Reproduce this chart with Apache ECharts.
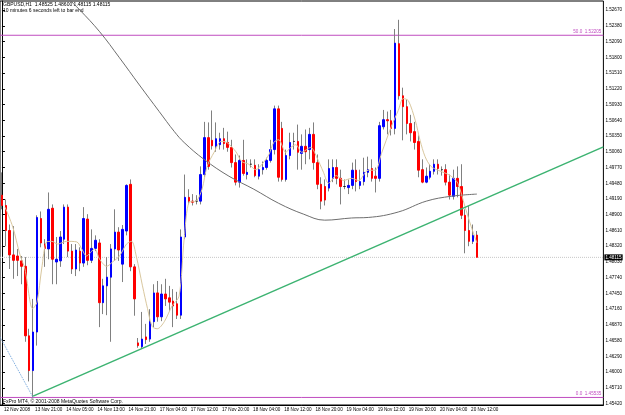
<!DOCTYPE html>
<html>
<head>
<meta charset="utf-8">
<script src="https://cdn.jsdelivr.net/npm/echarts@6/dist/echarts.min.js"></script>
<style>
  html, body { margin: 0; padding: 0; background: #fff; }
  #gbpChart { width: 625px; height: 415px; }
</style>
</head>
<body>
<div id="gbpChart"></div>
<script>
// GBPUSD H1 bars, 12 Nov - 20 Nov 2008
const opens = [
  1.4926, 1.4907, 1.4861, 1.4816, 1.4814, 1.4805, 1.4795, 1.4667, 1.4603, 1.4674,
  1.4883, 1.4836, 1.4827, 1.4902, 1.4803, 1.4805, 1.4845, 1.4904, 1.4823, 1.4790,
  1.4823, 1.4801, 1.4882, 1.4806, 1.4828, 1.4838, 1.4728, 1.4759, 1.4775, 1.4827,
  1.4858, 1.4799, 1.4860, 1.4946, 1.4794, 1.4654, 1.4647, 1.4665, 1.4661, 1.4693,
  1.4746, 1.4702, 1.4744, 1.4737, 1.4731, 1.4726, 1.4705, 1.4849, 1.4922, 1.4915,
  1.4915, 1.4915, 1.4964, 1.5032, 1.5027, 1.5016, 1.5019, 1.5030, 1.5023, 1.5014,
  1.4986, 1.4950, 1.4990, 1.4964, 1.4983, 1.4981, 1.4961, 1.4973, 1.4977, 1.4990,
  1.5010, 1.5085, 1.5049, 1.4955, 1.4999, 1.5025, 1.5025, 1.5003, 1.5016, 1.5010,
  1.5038, 1.4986, 1.4946, 1.4942, 1.4939, 1.4957, 1.4977, 1.4957, 1.4942, 1.4940,
  1.4944, 1.4972, 1.4944, 1.4951, 1.4968, 1.4975, 1.4961, 1.4957, 1.5052, 1.5065,
  1.5063, 1.5049, 1.5205, 1.5109, 1.5089, 1.5058, 1.5043, 1.5025, 1.4973, 1.4950,
  1.4959, 1.4970, 1.4983, 1.4973, 1.4973, 1.4950, 1.4924, 1.4957, 1.4942, 1.4889,
  1.4861, 1.4841, 1.48525
]
const closes = [
  1.4907, 1.4861, 1.4816, 1.4806, 1.4806, 1.4795, 1.4667, 1.4603, 1.4674, 1.4885,
  1.4838, 1.4828, 1.4900, 1.4808, 1.4808, 1.4849, 1.4904, 1.4823, 1.4790, 1.4825,
  1.4801, 1.4883, 1.4806, 1.4828, 1.4843, 1.4728, 1.4759, 1.4775, 1.4827, 1.4858,
  1.4825, 1.4863, 1.4944, 1.4794, 1.4735, 1.4649, 1.4661, 1.4660, 1.4693, 1.4746,
  1.4702, 1.4744, 1.4735, 1.4729, 1.4722, 1.4705, 1.4849, 1.4922, 1.4915, 1.4913,
  1.4915, 1.4964, 1.5032, 1.4979, 1.5017, 1.5030, 1.5030, 1.5021, 1.5014, 1.4986,
  1.4950, 1.4990, 1.4966, 1.4968, 1.4983, 1.4962, 1.4973, 1.4977, 1.4990, 1.5010,
  1.5085, 1.4959, 1.4955, 1.4999, 1.5023, 1.5025, 1.5005, 1.5016, 1.5006, 1.5038,
  1.4986, 1.4946, 1.4915, 1.4917, 1.4975, 1.4977, 1.4957, 1.4942, 1.4942, 1.4944,
  1.4972, 1.4951, 1.4951, 1.4968, 1.4973, 1.4957, 1.4957, 1.5054, 1.5065, 1.5063,
  1.5049, 1.5206, 1.5109, 1.5089, 1.5058, 1.5041, 1.5023, 1.4972, 1.4950, 1.4961,
  1.4970, 1.4983, 1.4975, 1.4973, 1.4950, 1.4926, 1.4957, 1.4942, 1.4889, 1.4861,
  1.4841, 1.4852, 1.48115
]
const lows = [
  1.4900, 1.4832, 1.4790, 1.4772, 1.4777, 1.4762, 1.4656, 1.4583, 1.45535, 1.4649,
  1.4830, 1.4794, 1.4808, 1.4762, 1.4762, 1.4794, 1.4836, 1.4812, 1.4781, 1.4777,
  1.4786, 1.4794, 1.4797, 1.4801, 1.4823, 1.4683, 1.4707, 1.4705, 1.4656, 1.4805,
  1.4805, 1.4766, 1.4852, 1.4786, 1.4704, 1.4645, 1.4643, 1.4652, 1.4656, 1.4683,
  1.4693, 1.4694, 1.4722, 1.4713, 1.4683, 1.4698, 1.4698, 1.4845, 1.4909, 1.4907,
  1.4909, 1.4909, 1.4959, 1.4973, 1.5010, 1.5006, 1.5010, 1.5010, 1.5006, 1.4977,
  1.4944, 1.4940, 1.4962, 1.4955, 1.4977, 1.4959, 1.4955, 1.4964, 1.4973, 1.4986,
  1.5001, 1.4951, 1.4951, 1.4951, 1.4992, 1.5010, 1.4973, 1.4973, 1.4983, 1.4992,
  1.4973, 1.4937, 1.4900, 1.4907, 1.4933, 1.4950, 1.4946, 1.4909, 1.4937, 1.4928,
  1.4937, 1.4933, 1.4937, 1.4944, 1.4959, 1.4951, 1.4931, 1.4951, 1.5047, 1.5038,
  1.5036, 1.5038, 1.5102, 1.5027, 1.5038, 1.5025, 1.5010, 1.4959, 1.4948, 1.4948,
  1.4955, 1.4964, 1.4964, 1.4962, 1.4944, 1.4918, 1.4918, 1.4922, 1.4882, 1.4819,
  1.4832, 1.4836, 1.48115
]
const highs = [
  1.4968, 1.4918, 1.4872, 1.4869, 1.4827, 1.4814, 1.4812, 1.4680, 1.4735, 1.4889,
  1.4896, 1.4845, 1.4931, 1.4909, 1.4849, 1.4860, 1.4909, 1.4909, 1.4836, 1.4836,
  1.4830, 1.4904, 1.4891, 1.4863, 1.4852, 1.4845, 1.4772, 1.4812, 1.4836, 1.4900,
  1.4867, 1.4871, 1.4946, 1.4955, 1.4799, 1.4663, 1.4711, 1.4689, 1.4716, 1.4762,
  1.4768, 1.4762, 1.4772, 1.4759, 1.4753, 1.4748, 1.4863, 1.4964, 1.4937, 1.4928,
  1.4926, 1.4979, 1.5061, 1.5060, 1.5082, 1.5060, 1.5041, 1.5050, 1.5043, 1.5028,
  1.5001, 1.4999, 1.5028, 1.4992, 1.4992, 1.4992, 1.4983, 1.4988, 1.4995, 1.5028,
  1.5091, 1.5091, 1.5061, 1.5010, 1.5041, 1.5041, 1.5056, 1.5038, 1.5047, 1.5050,
  1.5060, 1.5001, 1.4959, 1.4955, 1.4992, 1.4992, 1.4992, 1.4973, 1.4955, 1.4955,
  1.4986, 1.4992, 1.4973, 1.4995, 1.4997, 1.4992, 1.4977, 1.5061, 1.5083, 1.5080,
  1.5083, 1.5232, 1.5249, 1.5124, 1.5102, 1.5074, 1.5061, 1.5036, 1.4992, 1.4977,
  1.4983, 1.4992, 1.4992, 1.4979, 1.4983, 1.4964, 1.4973, 1.4979, 1.4983, 1.4900,
  1.4906, 1.4872, 1.4860
]

// time axis labels, one every 8 bars
const dateLabels = [
  '12 Nov 2008', '13 Nov 21:00', '14 Nov 05:00', '14 Nov 13:00', '14 Nov 21:00',
  '17 Nov 04:00', '17 Nov 12:00', '17 Nov 20:00', '18 Nov 04:00', '18 Nov 12:00',
  '18 Nov 20:00', '19 Nov 04:00', '19 Nov 12:00', '19 Nov 20:00', '20 Nov 04:00',
  '20 Nov 12:00'
]
const priceTicks = [
  1.45420, 1.45710, 1.46000, 1.46290, 1.46580, 1.46870, 1.47160, 1.47450, 1.47740,
  1.48030, 1.48320, 1.48610, 1.48900, 1.49190, 1.49480, 1.49770, 1.50060, 1.50350,
  1.50640, 1.50930, 1.51220, 1.51510, 1.51800, 1.52090, 1.52380, 1.52670
]

// moving averages as [bar, price]
const slowMa = [
  [14.8, 1.5304], [20.0, 1.5267], [25.1, 1.5227], [30.2, 1.5179], [35.3, 1.5129],
  [40.4, 1.5080], [44.3, 1.5043], [46.8, 1.5023], [51.9, 1.4992], [58.3, 1.4961],
  [64.7, 1.4937], [71.1, 1.4911], [77.5, 1.4891], [82.9, 1.4880], [89.8, 1.4884],
  [94.1, 1.4885], [101.8, 1.4895], [109.0, 1.4915], [115.4, 1.4924], [122.0, 1.4928]
]
const fastMa = [
  [0.8, 1.4904], [2.8, 1.4867], [4.6, 1.4817], [5.9, 1.4790], [7.9, 1.4717], [9.0, 1.4729],
  [10.2, 1.4790], [11.5, 1.4840], [12.8, 1.4841], [14.3, 1.4836], [16.6, 1.4841], [19.2, 1.4840],
  [20.5, 1.4827], [21.7, 1.4814], [23.8, 1.4827], [25.1, 1.4808], [26.9, 1.4795], [28.4, 1.4803],
  [30.2, 1.4814], [32.0, 1.4836], [33.3, 1.4841], [34.5, 1.4814], [36.1, 1.4759], [37.4, 1.4717],
  [38.6, 1.4684], [39.9, 1.4680], [41.7, 1.4693], [43.7, 1.4722], [45.5, 1.4740], [46.8, 1.4845],
  [48.1, 1.4913], [49.9, 1.4915], [51.4, 1.4937], [52.7, 1.4979], [54.5, 1.5005], [56.3, 1.5025],
  [57.8, 1.5023], [60.1, 1.5006], [61.6, 1.4988], [63.4, 1.4983], [65.2, 1.4973], [66.8, 1.4983],
  [68.6, 1.5001], [69.8, 1.5023], [71.1, 1.5028], [72.9, 1.5005], [74.2, 1.5014], [75.5, 1.5019],
  [77.0, 1.5005], [79.3, 1.5014], [80.8, 1.4997], [82.6, 1.4968], [83.9, 1.4948], [85.9, 1.4962],
  [87.7, 1.4953], [89.8, 1.4957], [91.6, 1.4953], [94.1, 1.4972], [95.9, 1.4972], [97.5, 1.5003],
  [98.7, 1.5027], [100.0, 1.5052], [101.8, 1.5082], [103.1, 1.5104], [104.4, 1.5100], [106.2, 1.5063],
  [107.4, 1.5027], [108.7, 1.4997], [110.2, 1.4979], [112.0, 1.4972], [114.1, 1.4966], [115.4, 1.4961],
  [117.1, 1.4948], [118.9, 1.4906], [120.5, 1.4869], [122.0, 1.4838]
]
// drawn objects
const trendLine = [[8, 1.4556], [154.5, 1.5015]]
const fiboTrend = [[-0.5, 1.4665], [8, 1.45535]]
const fiboNames = ['50.0', '0.0']
const fiboValues = [1.52205, 1.45535]
const lastPrice = 1.48115

const barSlots = 155
const categories = []
for (let i = 0; i < barSlots; i++) {
  categories.push(i % 8 === 0 && dateLabels[i / 8] ? dateLabels[i / 8] : '')
}
const candles = opens.map((o, i) => [o, closes[i], lows[i], highs[i]])
// bodies only (no shadow), drawn over the grey wicks
const bodies = opens.map((o, i) => [o, closes[i], Math.min(o, closes[i]), Math.max(o, closes[i])])
const fullRow = (v) => [[-0.5, v], [barSlots - 0.5, v]]

const font = 'Liberation Sans'
const purple = '#c04cc0'

const fiboSeries = fiboValues.map((v, k) => ({
  type: 'line',
  xAxisIndex: 1,
  data: fullRow(v),
  showSymbol: false,
  silent: true,
  lineStyle: { color: purple, width: 1 },
  endLabel: {
    show: true,
    formatter: fiboNames[k] + '  ' + v.toFixed(5),
    color: purple,
    fontSize: 4.6,
    fontFamily: font,
    align: 'right',
    verticalAlign: 'bottom',
    distance: 0,
    offset: [-2, -1]
  },
  z: 2
}))

const myChart = echarts.init(document.getElementById('gbpChart'))
myChart.setOption({
  animation: false,
  backgroundColor: '#ffffff',
  grid: {
    left: 0,
    right: 18,
    top: 1,
    bottom: 10,
    show: true,
    borderColor: '#000',
    borderWidth: 1
  },
  xAxis: [
    {
      type: 'category',
      data: categories,
      boundaryGap: true,
      axisLine: { lineStyle: { color: '#000' } },
      axisTick: {
        length: 5,
        interval: (i) => i % 8 === 0,
        lineStyle: { color: '#000' }
      },
      axisLabel: {
        interval: 0,
        align: 'left',
        margin: 2,
        padding: [0, 0, 0, 2],
        fontSize: 4.6,
        fontFamily: font,
        color: '#000'
      },
      splitLine: { show: false }
    },
    {
      type: 'value',
      min: -0.5,
      max: barSlots - 0.5,
      show: false
    }
  ],
  yAxis: {
    type: 'value',
    position: 'right',
    min: 1.45396,
    max: 1.52836,
    axisLine: { show: true, lineStyle: { color: '#000' } },
    axisTick: { show: true, length: 3, customValues: priceTicks, lineStyle: { color: '#000' } },
    axisLabel: {
      customValues: priceTicks,
      formatter: (v) => v.toFixed(5),
      margin: 2,
      fontSize: 4.6,
      fontFamily: font,
      color: '#000'
    },
    splitLine: { show: false }
  },
  series: [
    // current price line + black price box on the axis
    {
      type: 'line',
      xAxisIndex: 1,
      data: fullRow(lastPrice),
      showSymbol: false,
      silent: true,
      lineStyle: { color: '#c8c8c8', width: 1, type: 'dotted' },
      endLabel: {
        show: true,
        formatter: lastPrice.toFixed(5),
        color: '#fff',
        backgroundColor: '#000',
        padding: [1, 1, 0, 1],
        fontSize: 4.6,
        fontFamily: font,
        distance: 1
      },
      z: 1
    },
    ...fiboSeries,
    {
      type: 'candlestick',
      data: candles,
      barWidth: 1,
      itemStyle: {
        color: '#808080',
        color0: '#808080',
        borderColor: '#808080',
        borderColor0: '#808080',
        borderColorDoji: '#808080',
        borderWidth: 1
      },
      z: 3
    },
    {
      type: 'candlestick',
      data: bodies,
      barWidth: 2,
      itemStyle: {
        color: '#0000ff',
        color0: '#ff0000',
        borderColor: '#0000ff',
        borderColor0: '#ff0000',
        borderColorDoji: '#202020',
        borderWidth: 1
      },
      z: 4
    },
    {
      type: 'line',
      xAxisIndex: 1,
      data: slowMa,
      smooth: 0.4,
      showSymbol: false,
      lineStyle: { color: '#6e6e6e', width: 1 },
      z: 5
    },
    {
      type: 'line',
      xAxisIndex: 1,
      data: fastMa,
      smooth: 0.3,
      showSymbol: false,
      lineStyle: { color: '#d9c79e', width: 1 },
      z: 5
    },
    {
      type: 'line',
      xAxisIndex: 1,
      data: trendLine,
      showSymbol: false,
      lineStyle: { color: '#3cb371', width: 1.5 },
      z: 6
    },
    {
      type: 'line',
      xAxisIndex: 1,
      data: fiboTrend,
      showSymbol: false,
      lineStyle: { color: '#6a9fd8', width: 1, type: 'dotted' },
      z: 6
    }
  ],
  graphic: [
    {
      type: 'text',
      left: 3,
      top: 2,
      style: {
        text: 'GBPUSD,H1  1.48525 1.48600 1.48115 1.48115',
        fontSize: 5,
        fontFamily: font,
        fill: '#000'
      }
    },
    {
      type: 'text',
      left: 3,
      top: 8,
      style: {
        text: '10 minutes 6 seconds left to bar end',
        fontSize: 5,
        fontFamily: font,
        fill: '#000'
      }
    },
    {
      type: 'text',
      left: 3,
      top: 399,
      style: {
        text: 'FxPro MT4, \u00a9 2001-2008 MetaQuotes Software Corp.',
        fontSize: 5,
        fontFamily: font,
        fill: '#000'
      }
    }
  ]
})
window.addEventListener('resize', () => {
  myChart.resize()
})
</script>
</body>
</html>
